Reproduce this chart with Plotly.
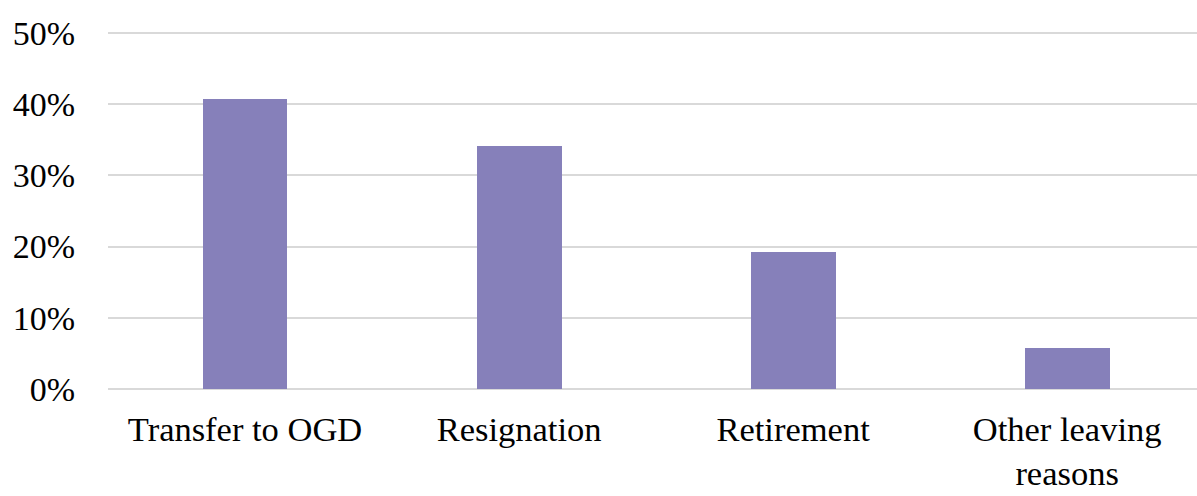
import plotly.graph_objects as go

# Leaving reasons and share of leavers
categories = ["Transfer to OGD", "Resignation", "Retirement", "Other leaving<br>reasons"]
shares = [0.407, 0.341, 0.193, 0.058]
y_ticks = [0, 0.1, 0.2, 0.3, 0.4, 0.5]
y_tick_labels = ["0%", "10%", "20%", "30%", "40%", "50%"]

fig = go.Figure(
    go.Bar(
        x=categories,
        y=shares,
        width=0.31,
        marker=dict(color="#8680BA", line=dict(width=0)),
    )
)

serif = "Liberation Serif, Times New Roman, serif"
x_font = dict(family=serif, size=34.5, color="#000000")
y_font = dict(family=serif, size=34, color="#000000")

fig.update_layout(
    width=1197,
    height=496,
    margin=dict(l=108, r=0, t=32, b=106),
    paper_bgcolor="white",
    plot_bgcolor="white",
    showlegend=False,
    font=y_font,
    bargap=0,
)
fig.update_xaxes(
    range=[-0.5, 3.474],
    showgrid=False,
    zeroline=False,
    showline=False,
    ticks="",
    ticklabelstandoff=15,
    tickfont=x_font,
    automargin=False,
)
fig.update_yaxes(
    range=[-0.0015, 0.5015],
    tickvals=y_ticks,
    ticktext=y_tick_labels,
    showgrid=True,
    gridcolor="#D9D9D9",
    gridwidth=2,
    zeroline=False,
    showline=False,
    ticks="",
    ticklabelstandoff=32,
    tickfont=y_font,
    automargin=False,
)

fig.write_html("out.html")
